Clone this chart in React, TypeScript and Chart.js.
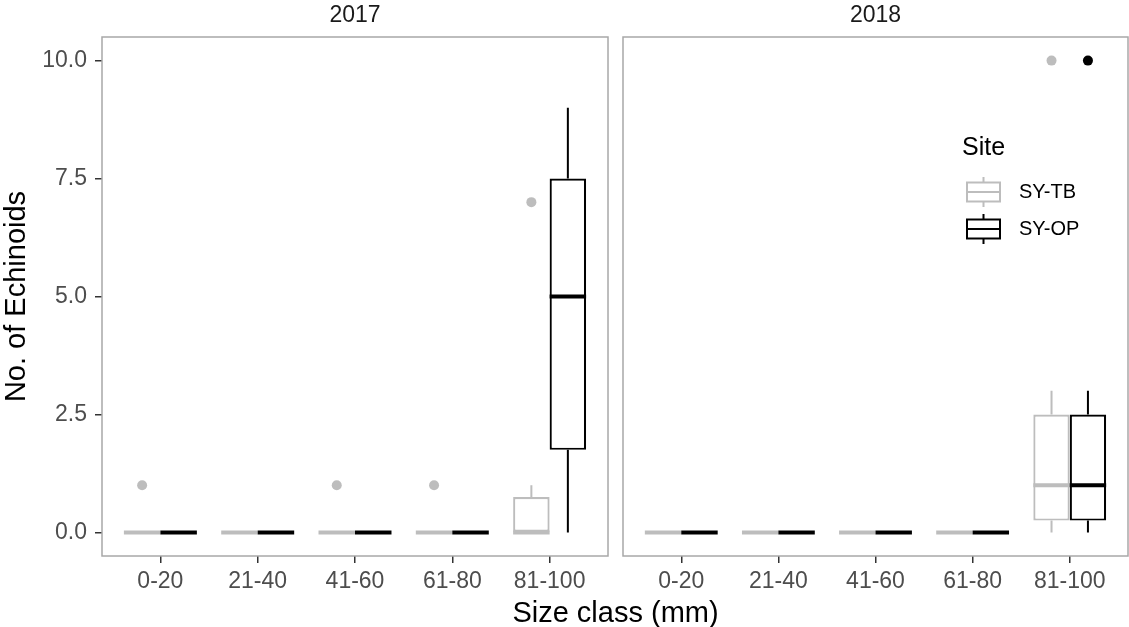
import React, { useEffect, useRef } from 'react';
import { Chart, registerables } from 'chart.js';

Chart.register(...registerables);

// ---------- data ----------
const sizeClasses = ['0-20', '21-40', '41-60', '61-80', '81-100'];
const years = ['2017', '2018'];
const sites = ['SY-TB', 'SY-OP'];
const siteColors = ['#bdbdbd', '#000000'];
const yTicks = [0, 2.5, 5, 7.5, 10];

// 2017, SY-TB
const tb2017Low = [0, 0, 0, 0, 0];
const tb2017Q1 = [0, 0, 0, 0, 0];
const tb2017Median = [0, 0, 0, 0, 0];
const tb2017Q3 = [0, 0, 0, 0, 0.75];
const tb2017High = [0, 0, 0, 0, 1];
const tb2017Outliers = [[1], [], [1], [1], [7]];

// 2017, SY-OP
const op2017Low = [0, 0, 0, 0, 0];
const op2017Q1 = [0, 0, 0, 0, 1.75];
const op2017Median = [0, 0, 0, 0, 5];
const op2017Q3 = [0, 0, 0, 0, 7.5];
const op2017High = [0, 0, 0, 0, 9];
const op2017Outliers = [[], [], [], [], []];

// 2018, SY-TB
const tb2018Low = [0, 0, 0, 0, 0];
const tb2018Q1 = [0, 0, 0, 0, 0.25];
const tb2018Median = [0, 0, 0, 0, 1];
const tb2018Q3 = [0, 0, 0, 0, 2.5];
const tb2018High = [0, 0, 0, 0, 3];
const tb2018Outliers = [[], [], [], [], [10]];

// 2018, SY-OP
const op2018Low = [0, 0, 0, 0, 0];
const op2018Q1 = [0, 0, 0, 0, 0.25];
const op2018Median = [0, 0, 0, 0, 1];
const op2018Q3 = [0, 0, 0, 0, 2.5];
const op2018High = [0, 0, 0, 0, 3];
const op2018Outliers = [[], [], [], [], [10]];

const FONT = "'Liberation Sans', Arial, Helvetica, sans-serif";

function makeDataset(
  label: string,
  color: string,
  low: number[],
  q1: number[],
  median: number[],
  q3: number[],
  high: number[],
  outliers: number[][]
): any {
  return {
    label,
    data: sizeClasses.map((_, i) => ({ x: i, y: [q1[i], q3[i]] })),
    backgroundColor: '#ffffff',
    borderColor: color,
    borderWidth: 2.2,
    borderSkipped: false,
    categoryPercentage: 0.75,
    barPercentage: 1,
    boxColor: color,
    low,
    q1,
    median,
    q3,
    high,
    outliers,
  };
}

const boxplotPlugin = {
  id: 'boxplotParts',
  afterDatasetsDraw(chart: any) {
    const ctx = chart.ctx;
    const yScale = chart.scales.y;
    chart.data.datasets.forEach((ds: any, d: number) => {
      const meta = chart.getDatasetMeta(d);
      meta.data.forEach((bar: any, i: number) => {
        const { x, width } = bar.getProps(['x', 'width'], true);
        ctx.save();
        ctx.strokeStyle = ds.boxColor;
        ctx.lineCap = 'butt';
        ctx.lineWidth = 2;
        ctx.beginPath();
        ctx.moveTo(x, yScale.getPixelForValue(ds.q3[i]));
        ctx.lineTo(x, yScale.getPixelForValue(ds.high[i]));
        ctx.moveTo(x, yScale.getPixelForValue(ds.q1[i]));
        ctx.lineTo(x, yScale.getPixelForValue(ds.low[i]));
        ctx.stroke();
        const ym = yScale.getPixelForValue(ds.median[i]);
        ctx.lineWidth = 4;
        ctx.beginPath();
        ctx.moveTo(x - width / 2, ym);
        ctx.lineTo(x + width / 2, ym);
        ctx.stroke();
        ctx.fillStyle = ds.boxColor;
        ds.outliers[i].forEach((v: number) => {
          ctx.beginPath();
          ctx.arc(x, yScale.getPixelForValue(v), 5, 0, Math.PI * 2);
          ctx.fill();
        });
        ctx.restore();
      });
    });
  },
};

const panelBorderPlugin = {
  id: 'panelBorder',
  afterDraw(chart: any) {
    const { left, top, width, height } = chart.chartArea;
    const ctx = chart.ctx;
    ctx.save();
    ctx.strokeStyle = '#a8a8a8';
    ctx.lineWidth = 1.5;
    ctx.strokeRect(left, top, width, height);
    ctx.restore();
  },
};

const xTitlePlugin = {
  id: 'xTitle',
  afterDraw(chart: any) {
    const ctx = chart.ctx;
    ctx.save();
    ctx.fillStyle = '#000000';
    ctx.font = `29px ${FONT}`;
    ctx.textAlign = 'center';
    ctx.textBaseline = 'alphabetic';
    ctx.fillText('Size class (mm)', chart.chartArea.right + 7.5, 622);
    ctx.restore();
  },
};

const legendPlugin = {
  id: 'siteLegend',
  afterDraw(chart: any) {
    const ctx = chart.ctx;
    const left = chart.chartArea.left;
    ctx.save();
    ctx.fillStyle = '#000000';
    ctx.font = `25px ${FONT}`;
    ctx.textAlign = 'left';
    ctx.textBaseline = 'alphabetic';
    ctx.fillText('Site', left + 339, 155);
    sites.forEach((name, s) => {
      const cy = 192 + 37 * s;
      const x0 = left + 344;
      const x1 = left + 377;
      const xc = (x0 + x1) / 2;
      ctx.strokeStyle = siteColors[s];
      ctx.lineWidth = 2;
      ctx.beginPath();
      ctx.rect(x0, cy - 9.5, x1 - x0, 19);
      ctx.moveTo(x0, cy);
      ctx.lineTo(x1, cy);
      ctx.moveTo(xc, cy - 9.5);
      ctx.lineTo(xc, cy - 15);
      ctx.moveTo(xc, cy + 9.5);
      ctx.lineTo(xc, cy + 15);
      ctx.stroke();
      ctx.fillStyle = '#000000';
      ctx.font = `20px ${FONT}`;
      ctx.textBaseline = 'middle';
      ctx.fillText(name, left + 396, cy);
    });
    ctx.restore();
  },
};

function makeConfig(yearIndex: number, datasets: any[], isLeft: boolean): any {
  return {
    type: 'bar',
    data: { datasets },
    options: {
      responsive: false,
      maintainAspectRatio: false,
      animation: false,
      events: [],
      layout: {
        padding: isLeft
          ? { left: 0, right: 1129 - 608, top: 0, bottom: 0 }
          : { left: 623, right: 1, top: 0, bottom: 0 },
      },
      plugins: {
        legend: { display: false },
        tooltip: { enabled: false },
        title: {
          display: true,
          text: years[yearIndex],
          fullSize: false,
          color: '#1a1a1a',
          font: { size: 23, family: FONT, weight: 'normal' },
          padding: { top: 2, bottom: 7.4 },
        },
      },
      scales: {
        x: {
          type: 'linear',
          min: -0.6,
          max: 4.6,
          offset: false,
          afterBuildTicks: (s: any) => {
            s.ticks = sizeClasses.map((_, i) => ({ value: i }));
          },
          afterFit: (s: any) => {
            s.height = 71;
          },
          ticks: {
            callback: (v: any) => sizeClasses[Number(v)],
            color: '#4d4d4d',
            font: { size: 23, family: FONT },
            padding: 5,
            maxRotation: 0,
            autoSkip: false,
          },
          grid: {
            offset: false,
            drawOnChartArea: false,
            tickLength: 7,
            color: '#333333',
            lineWidth: 1.5,
          },
          border: { display: false },
        },
        y: {
          type: 'linear',
          display: isLeft,
          min: -0.5,
          max: 10.5,
          afterBuildTicks: (s: any) => {
            s.ticks = yTicks.map((v) => ({ value: v }));
          },
          afterFit: (s: any) => {
            s.width = isLeft ? 102 : 0;
          },
          ticks: {
            callback: (v: any) => Number(v).toFixed(1),
            color: '#4d4d4d',
            font: { size: 23, family: FONT },
            padding: 8,
          },
          grid: {
            drawOnChartArea: false,
            tickLength: 7,
            color: '#333333',
            lineWidth: 1.5,
          },
          border: { display: false },
          title: {
            display: true,
            text: 'No. of Echinoids',
            color: '#000000',
            font: { size: 29, family: FONT },
            padding: { top: 0, bottom: 0 },
          },
        },
      },
    },
    plugins: isLeft
      ? [panelBorderPlugin, boxplotPlugin, xTitlePlugin]
      : [panelBorderPlugin, boxplotPlugin, legendPlugin],
  };
}

export default function App() {
  const leftRef = useRef<HTMLCanvasElement>(null);
  const rightRef = useRef<HTMLCanvasElement>(null);

  useEffect(() => {
    Chart.defaults.font.family = FONT;
    const left = new Chart(
      leftRef.current as HTMLCanvasElement,
      makeConfig(
        0,
        [
          makeDataset(sites[0], siteColors[0], tb2017Low, tb2017Q1, tb2017Median, tb2017Q3, tb2017High, tb2017Outliers),
          makeDataset(sites[1], siteColors[1], op2017Low, op2017Q1, op2017Median, op2017Q3, op2017High, op2017Outliers),
        ],
        true
      )
    );
    const right = new Chart(
      rightRef.current as HTMLCanvasElement,
      makeConfig(
        1,
        [
          makeDataset(sites[0], siteColors[0], tb2018Low, tb2018Q1, tb2018Median, tb2018Q3, tb2018High, tb2018Outliers),
          makeDataset(sites[1], siteColors[1], op2018Low, op2018Q1, op2018Median, op2018Q3, op2018High, op2018Outliers),
        ],
        false
      )
    );
    return () => {
      left.destroy();
      right.destroy();
    };
  }, []);

  const canvasStyle: React.CSSProperties = { position: 'absolute', left: 0, top: 0, display: 'block' };
  return (
    <div style={{ position: 'fixed', left: 0, top: 0, width: 1129, height: 627, background: '#ffffff', overflow: 'hidden' }}>
      <canvas ref={leftRef} width={1129} height={627} style={canvasStyle} />
      <canvas ref={rightRef} width={1129} height={627} style={canvasStyle} />
    </div>
  );
}
